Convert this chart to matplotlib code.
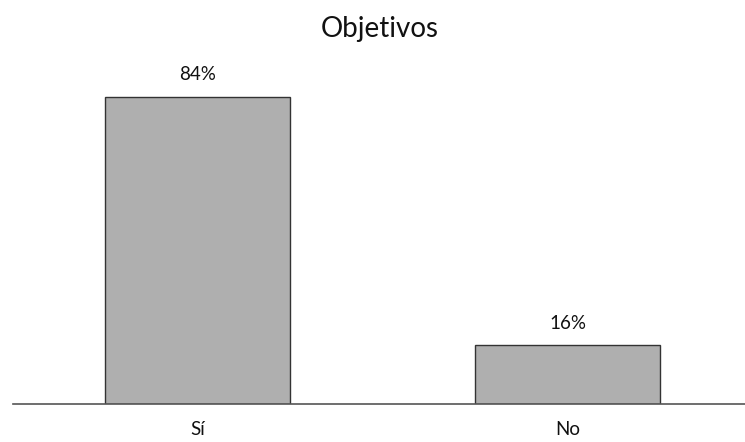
import matplotlib.pyplot as plt

categories = ["Sí", "No"]
values = [84, 16]
labels = ["84%", "16%"]

plt.rcParams['font.family'] = ['Lato', 'DejaVu Sans']

fig = plt.figure(figsize=(7.45, 4.42), dpi=100)
ax = fig.add_axes([13 / 745, 38 / 442, 732 / 745, 344 / 442])

x = range(len(categories))
ax.bar(x, values, width=0.5, color="#afafaf", edgecolor="#333333", linewidth=1.0, zorder=2)

for xi, v, lab in zip(x, values, labels):
    ax.annotate(lab, (xi, v), xytext=(0, 10), textcoords="offset points",
                ha="center", va="bottom", fontsize=13.5, color="#111111")

ax.set_xlim(-0.5, 1.48)
ax.set_ylim(0, 94)
ax.set_xticks(list(x))
ax.set_xticklabels(categories, fontsize=13.5, color="#111111")
ax.tick_params(axis="x", length=0, pad=12)
ax.set_yticks([])
for s in ["top", "right", "left"]:
    ax.spines[s].set_visible(False)
ax.spines["bottom"].set_color("#555555")
ax.spines["bottom"].set_linewidth(1.2)

fig.text(380 / 745, 1 - 29 / 442, "Objetivos", ha="center", va="center", fontsize=20, color="#111111")

fig.savefig("out.png", dpi=100)
